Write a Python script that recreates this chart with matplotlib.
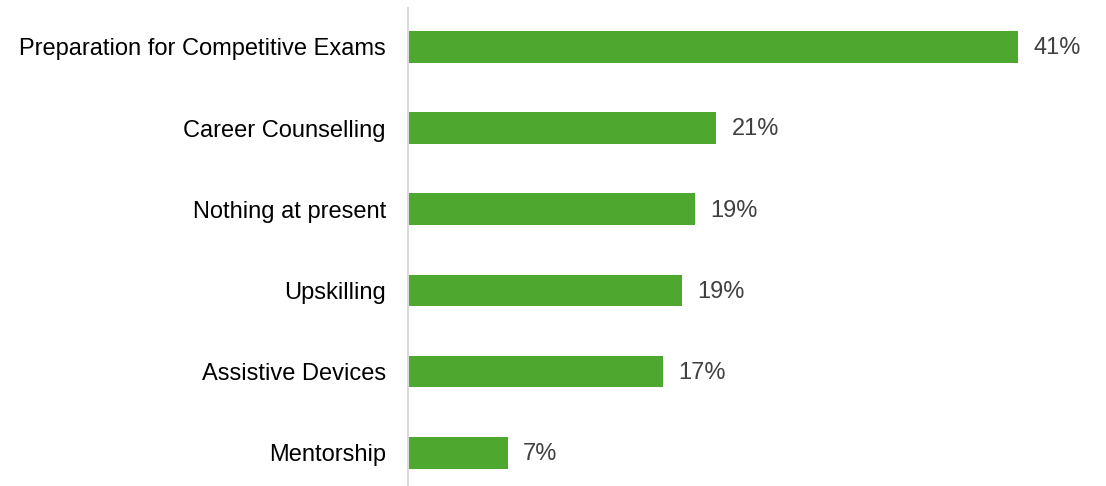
import matplotlib.pyplot as plt

plt.rcParams['font.family'] = ['Liberation Sans', 'DejaVu Sans']

categories = ['Preparation for Competitive Exams', 'Career Counselling', 'Nothing at present',
              'Upskilling', 'Assistive Devices', 'Mentorship']
values = [41, 20.7, 19.3, 18.4, 17.1, 6.7]
value_labels = ['41%', '21%', '19%', '19%', '17%', '7%']

fig = plt.figure(figsize=(11.06, 4.86), dpi=100)
axe = fig.add_axes([408 / 1106, 0, 670 / 1106, 1 - 8 / 486])

pos = list(range(len(categories)))
axe.barh(pos, values, height=0.39, color='#4EA72E')

for p, v, lab in zip(pos, values, value_labels):
    axe.annotate(lab, (v, p), xytext=(11, -1), textcoords='offset points',
                 va='center', ha='left', fontsize=17, color='#404040')

axe.set_xlim(0, 45)
axe.set_ylim(5.41, -0.48)
axe.set_yticks(pos)
axe.set_yticklabels(categories, fontsize=17, color='black')
axe.tick_params(axis='y', length=0, pad=16)
axe.set_xticks([])

for s in ['top', 'right', 'bottom']:
    axe.spines[s].set_visible(False)
axe.spines['left'].set_color('#D9D9D9')
axe.spines['left'].set_linewidth(1.5)

fig.savefig('out.png', dpi=100)
